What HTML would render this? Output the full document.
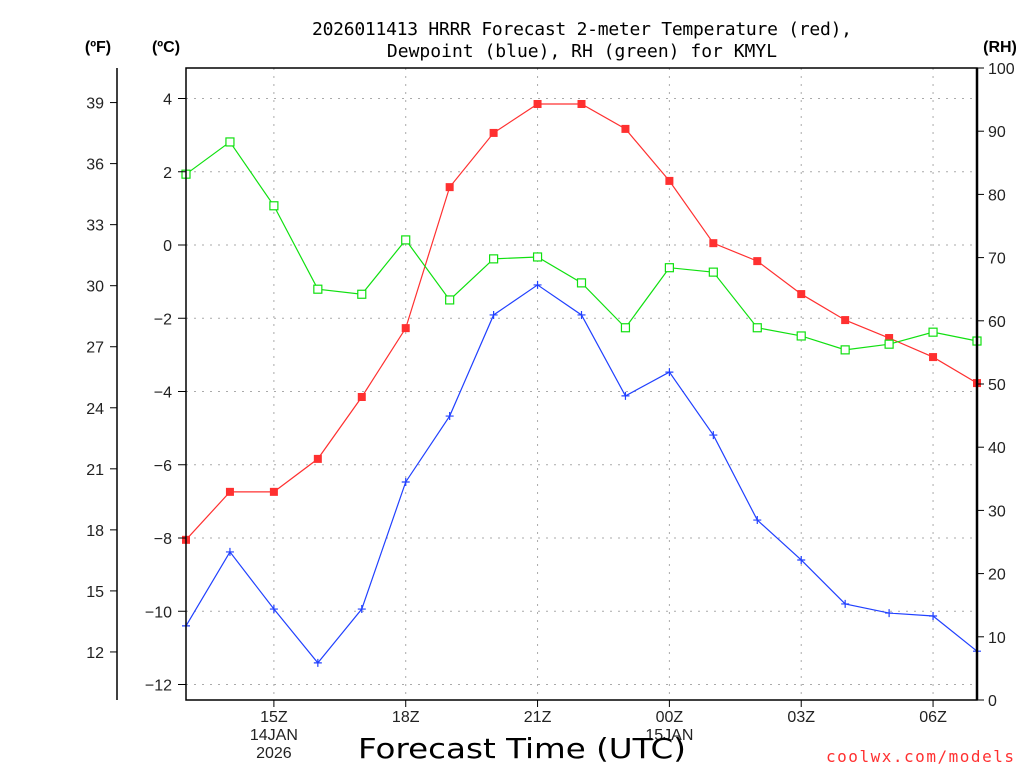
<!DOCTYPE html>
<html><head><meta charset="utf-8"><style>
body{margin:0;background:#fff;width:1024px;height:768px;overflow:hidden}
svg{font-family:"Liberation Sans",sans-serif}
</style></head><body>
<svg id="chart" width="1024" height="768" xmlns="http://www.w3.org/2000/svg">
<g id="grid"></g>
<g id="series"></g>
<g id="axes"></g>
<text x="582" y="35" text-anchor="middle" font-size="18" font-family="DejaVu Sans Mono, Liberation Mono, monospace" textLength="540">2026011413 HRRR Forecast 2-meter Temperature (red),</text>
<text x="582" y="57" text-anchor="middle" font-size="18" font-family="DejaVu Sans Mono, Liberation Mono, monospace">Dewpoint (blue), RH (green) for KMYL</text>
<text x="98" y="52" text-anchor="middle" font-size="16" font-weight="bold">(ºF)</text>
<text x="166" y="52" text-anchor="middle" font-size="16" font-weight="bold">(ºC)</text>
<text x="1000" y="52" text-anchor="middle" font-size="16" font-weight="bold">(RH)</text>
<text x="522" y="758" text-anchor="middle" font-size="28" font-family="DejaVu Sans, sans-serif" textLength="328" lengthAdjust="spacingAndGlyphs">Forecast Time (UTC)</text>
<text x="1014" y="762" text-anchor="end" font-size="16" fill="#ff3030" font-family="DejaVu Sans Mono, monospace" textLength="188" lengthAdjust="spacing">coolwx.com/models</text>
</svg>
<script>
const hours=[13,14,15,16,17,18,19,20,21,22,23,0,1,2,3,4,5,6,7];
const tempC=[-8.05,-6.74,-6.74,-5.84,-4.15,-2.27,1.58,3.06,3.85,3.85,3.17,1.75,0.05,-0.44,-1.34,-2.05,-2.54,-3.06,-3.77];
const dewC=[-10.4,-8.38,-9.94,-11.41,-9.94,-6.47,-4.67,-1.91,-1.09,-1.91,-4.12,-3.47,-5.19,-7.51,-8.6,-9.8,-10.05,-10.13,-11.09];
const rh=[83.2,88.3,78.2,65.0,64.2,72.8,63.3,69.8,70.1,66.0,58.9,68.4,67.7,58.9,57.6,55.4,56.3,58.2,56.8];
const cTicks=[4,2,0,-2,-4,-6,-8,-10,-12];
const fTicks=[39,36,33,30,27,24,21,18,15,12];
const rhTicks=[0,10,20,30,40,50,60,70,80,90,100];
const xTickLabels=[[2,'15Z'],[5,'18Z'],[8,'21Z'],[11,'00Z'],[14,'03Z'],[17,'06Z']];
const L=186,R=977,T=68,B=700;
const x=i=>L+i*(R-L)/(hours.length-1);
const yC=c=>245-c*36.625;
const yF=f=>yC((f-32)*5/9);
const yR=r=>B-r*(B-T)/100;
const NS='http://www.w3.org/2000/svg';
function mk(tag,attrs,parent,txt){const e=document.createElementNS(NS,tag);for(const k in attrs)e.setAttribute(k,attrs[k]);if(txt!==undefined)e.textContent=txt;parent.appendChild(e);return e;}
const grid=document.getElementById('grid'),ser=document.getElementById('series'),ax=document.getElementById('axes');
cTicks.forEach(c=>{const l=mk('line',{x1:L,x2:R,y1:yC(c),y2:yC(c),stroke:'#aaa','stroke-dasharray':'2,6'},grid);

const t=mk('text',{x:172,y:yC(c)+6,'text-anchor':'end','font-size':16,fill:'#222'},ax,String(c).replace('-','−'));

mk('line',{x1:178,x2:L,y1:yC(c),y2:yC(c),stroke:'#000'},ax);});
xTickLabels.forEach(([i,s])=>{const l=mk('line',{x1:x(i),x2:x(i),y1:T,y2:B,stroke:'#aaa','stroke-dasharray':'2,6'},grid);

mk('line',{x1:x(i),x2:x(i),y1:B,y2:B+7,stroke:'#000'},ax);
const t=mk('text',{x:x(i),y:722,'text-anchor':'middle','font-size':16,fill:'#222'},ax,s);
});
[[2,'14JAN',740],[2,'2026',758],[11,'15JAN',740]].forEach(([i,s,yy])=>{const t=mk('text',{x:x(i),y:yy,'text-anchor':'middle','font-size':16,fill:'#222'},ax,s);
});
fTicks.forEach(f=>{mk('line',{x1:110,x2:117,y1:yF(f),y2:yF(f),stroke:'#000'},ax);
const t=mk('text',{x:104,y:yF(f)+6,'text-anchor':'end','font-size':16,fill:'#222'},ax,f);
});
rhTicks.forEach(r=>{mk('line',{x1:R,x2:R+7,y1:yR(r),y2:yR(r),stroke:'#000'},ax);
const t=mk('text',{x:988,y:yR(r)+6,'font-size':16,fill:'#222'},ax,r);
});
const fl=mk('line',{x1:117,x2:117,y1:T,y2:B,stroke:'#000','stroke-width':1.5},ax);

const fr=mk('rect',{x:L,y:T,width:R-L,height:B-T,fill:'none',stroke:'#000','stroke-width':1.5},ax);

mk('line',{x1:R,x2:R,y1:T,y2:B,stroke:'#000','stroke-width':2.5},ax);
function series(vals,yf,color,name,marker){
const p=mk('polyline',{points:vals.map((v,i)=>x(i)+','+yf(v)).join(' '),fill:'none',stroke:color,'stroke-width':1.2},ser);

vals.forEach((v,i)=>{const cx=x(i),cy=yf(v);let m;
if(marker==='fill')m=mk('rect',{x:cx-4,y:cy-4,width:8,height:8,fill:color},ser);
else if(marker==='open')m=mk('rect',{x:cx-4,y:cy-4,width:8,height:8,fill:'#fff',stroke:color,'stroke-width':1.2},ser);
else m=mk('path',{d:`M${cx-4} ${cy}H${cx+4}M${cx} ${cy-4}V${cy+4}`,stroke:color,'stroke-width':1.2},ser);
});}
series(tempC,yC,'#ff3030','temperature','fill');
series(dewC,yC,'#2040ff','dewpoint','plus');
series(rh,yR,'#10e010','rh','open');
</script>
</body></html>
